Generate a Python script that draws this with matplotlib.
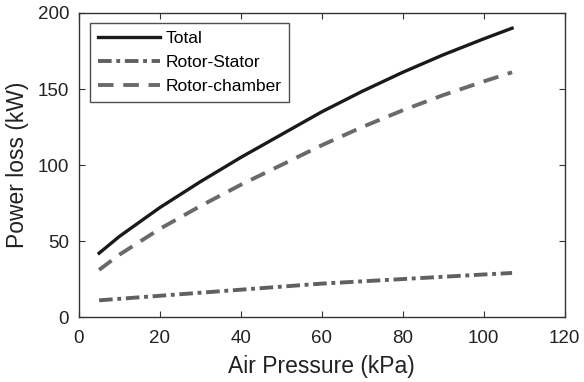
import matplotlib
matplotlib.use("Agg")
import matplotlib.pyplot as plt

plt.rcParams['font.family'] = ['Liberation Sans', 'DejaVu Sans']

pressure = [5, 10, 20, 30, 40, 50, 60, 70, 80, 90, 100, 107]
rotor_chamber = [31, 41, 58, 73, 87, 100, 113, 125, 136, 146, 155, 161]
rotor_stator = [11, 12, 14, 16, 18, 20, 22, 23.5, 25, 26.5, 28, 29]
total = [a + b for a, b in zip(rotor_chamber, rotor_stator)]

fig, ax = plt.subplots(figsize=(5.84, 3.82), dpi=100)
fig.subplots_adjust(left=0.135, right=0.967, top=0.966, bottom=0.17)

ax.plot(pressure, total, color='#1a1a1a', lw=2.4, label='Total')
ax.plot(pressure, rotor_stator, color='#606060', lw=2.8, ls=(0, (3.5, 1.2, 1, 1.2)),
        label='Rotor-Stator')
ax.plot(pressure, rotor_chamber, color='#6a6a6a', lw=2.8, ls=(0, (4, 2.5)),
        label='Rotor-chamber')

ax.set_xlim(0, 120)
ax.set_ylim(0, 200)
ax.set_xticks(range(0, 121, 20))
ax.set_yticks(range(0, 201, 50))
ax.tick_params(direction='in', top=True, right=True, labelsize=13.5, length=4,
               colors='#333333', labelcolor='#222222')
ax.tick_params(axis='x', pad=9)
ax.tick_params(axis='y', pad=7)
for s in ax.spines.values():
    s.set_color('#333333')
    s.set_linewidth(1.0)

ax.set_xlabel('Air Pressure (kPa)', fontsize=16.5, color='#222222', labelpad=6)
ax.set_ylabel('Power loss (kW)', fontsize=16.5, color='#222222', labelpad=6)

leg = ax.legend(loc='upper left', fontsize=12.5, fancybox=False, edgecolor='#222222',
                handlelength=3.6, borderpad=0.45, labelspacing=0.5, handletextpad=0.3,
                bbox_to_anchor=(0.005, 0.995))
leg.get_frame().set_linewidth(1.0)

fig.savefig('out.png')
